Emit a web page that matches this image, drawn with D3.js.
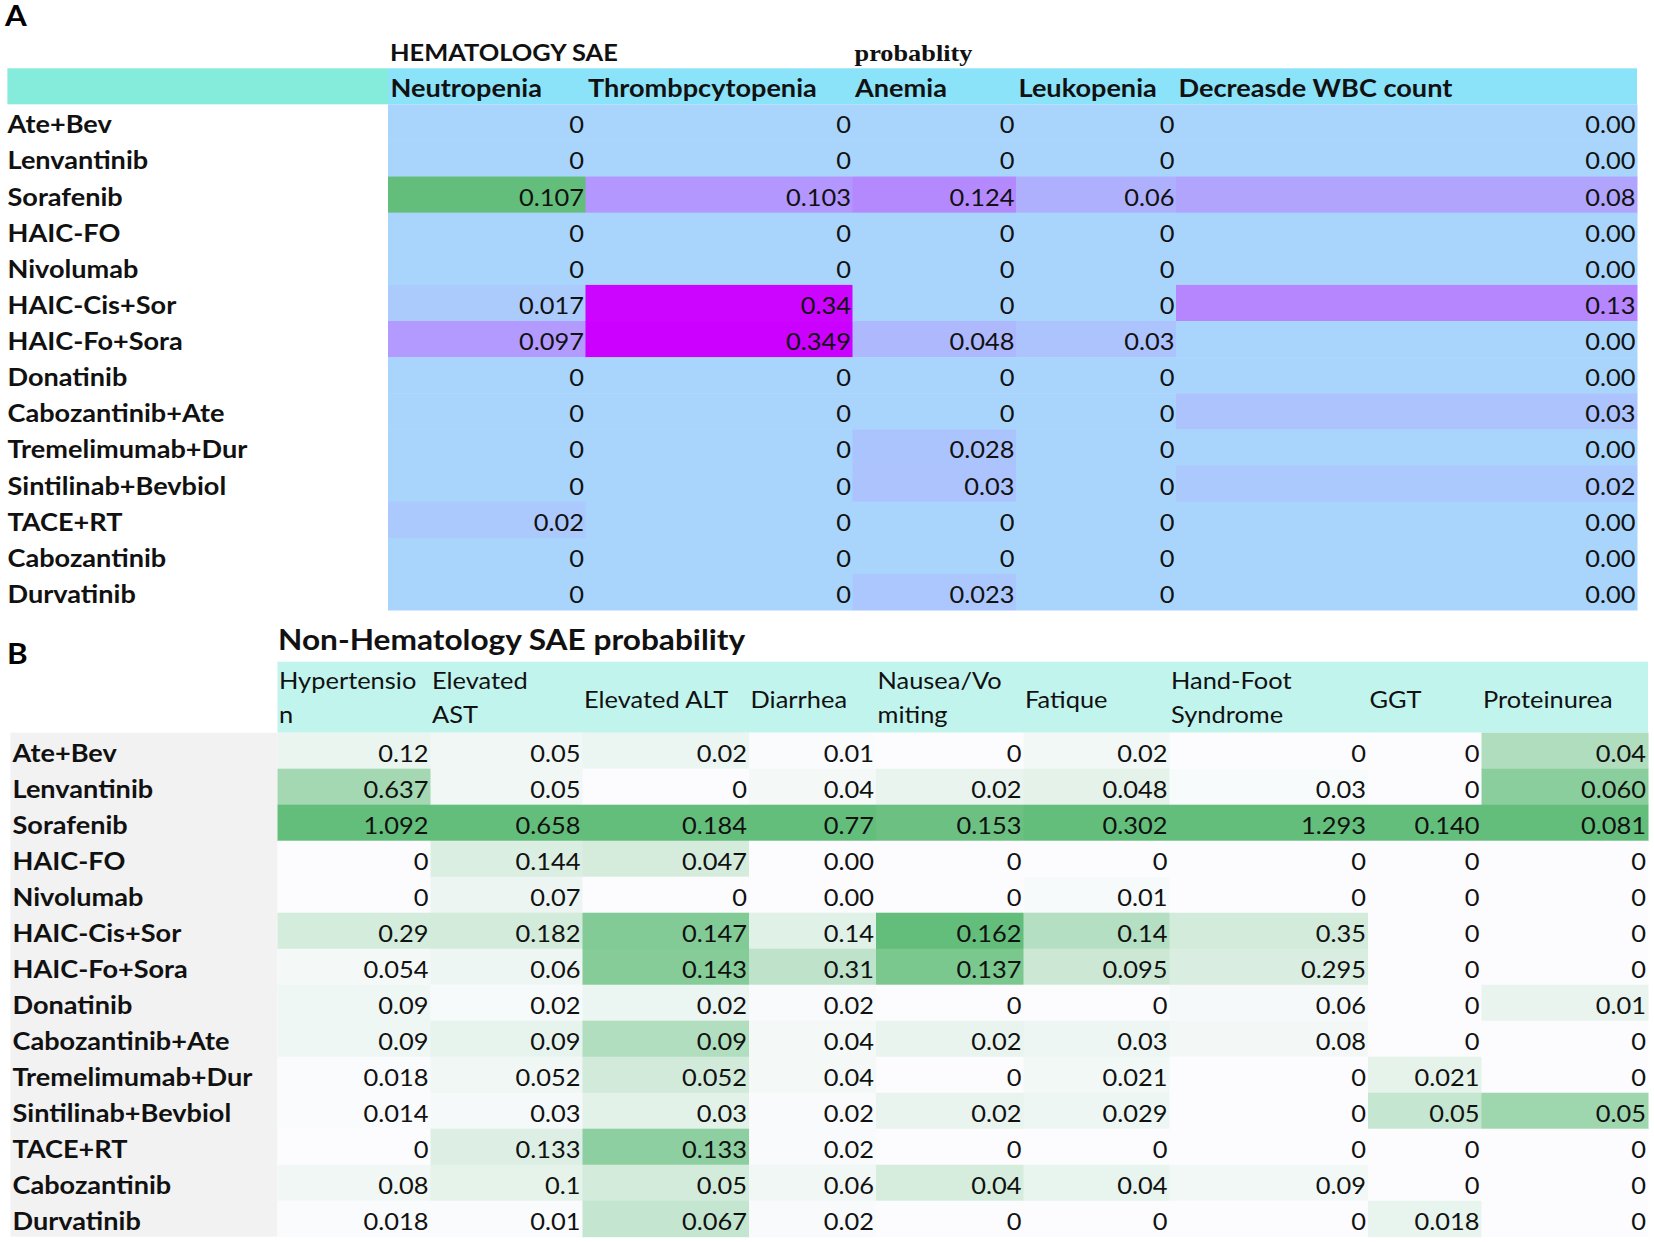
<!DOCTYPE html>
<html>
<head>
<meta charset="utf-8">
<script src="https://cdn.jsdelivr.net/npm/d3@7"></script>
<style>
  html, body { margin: 0; padding: 0; background: #ffffff; }
  svg { display: block; }
</style>
</head>
<body>
<svg id="chart" width="1654" height="1242"></svg>
<script>
// ---------------- DATA ----------------
const treatments = ["Ate+Bev","Lenvantinib","Sorafenib","HAIC-FO","Nivolumab","HAIC-Cis+Sor","HAIC-Fo+Sora","Donatinib","Cabozantinib+Ate","Tremelimumab+Dur","Sintilinab+Bevbiol","TACE+RT","Cabozantinib","Durvatinib"];

// Panel A: hematology SAE probability
const hemCategories = ["Neutropenia","Thrombpcytopenia","Anemia","Leukopenia","Decreasde WBC count"];
const neutropenia      = ["0","0","0.107","0","0","0.017","0.097","0","0","0","0","0.02","0","0"];
const thrombocytopenia = ["0","0","0.103","0","0","0.34","0.349","0","0","0","0","0","0","0"];
const anemia           = ["0","0","0.124","0","0","0","0.048","0","0","0.028","0.03","0","0","0.023"];
const leukopenia       = ["0","0","0.06","0","0","0","0.03","0","0","0","0","0","0","0"];
const decreasedWBC     = ["0.00","0.00","0.08","0.00","0.00","0.13","0.00","0.00","0.03","0.00","0.02","0.00","0.00","0.00"];
const hemHighlighted   = [["Sorafenib","Neutropenia"]];

// Panel B: non-hematology SAE probability
const nonHemCategories = ["Hypertension","Elevated AST","Elevated ALT","Diarrhea","Nausea/Vomiting","Fatique","Hand-Foot Syndrome","GGT","Proteinurea"];
const nonHemHeaderLines = [["Hypertensio","n"],["Elevated","AST"],["Elevated ALT"],["Diarrhea"],["Nausea/Vo","miting"],["Fatique"],["Hand-Foot","Syndrome"],["GGT"],["Proteinurea"]];
const hypertension = ["0.12","0.637","1.092","0","0","0.29","0.054","0.09","0.09","0.018","0.014","0","0.08","0.018"];
const elevatedAST  = ["0.05","0.05","0.658","0.144","0.07","0.182","0.06","0.02","0.09","0.052","0.03","0.133","0.1","0.01"];
const elevatedALT  = ["0.02","0","0.184","0.047","0","0.147","0.143","0.02","0.09","0.052","0.03","0.133","0.05","0.067"];
const diarrhea     = ["0.01","0.04","0.77","0.00","0.00","0.14","0.31","0.02","0.04","0.04","0.02","0.02","0.06","0.02"];
const nausea       = ["0","0.02","0.153","0","0","0.162","0.137","0","0.02","0","0.02","0","0.04","0"];
const fatigue      = ["0.02","0.048","0.302","0","0.01","0.14","0.095","0","0.03","0.021","0.029","0","0.04","0"];
const handFoot     = ["0","0.03","1.293","0","0","0.35","0.295","0.06","0.08","0","0","0","0.09","0"];
const ggt          = ["0","0","0.140","0","0","0","0","0","0","0.021","0.05","0","0","0.018"];
const proteinuria  = ["0.04","0.060","0.081","0","0","0","0","0.01","0","0","0.05","0","0","0"];

const hemSeries = [neutropenia, thrombocytopenia, anemia, leukopenia, decreasedWBC];
const nonHemSeries = [hypertension, elevatedAST, elevatedALT, diarrhea, nausea, fatigue, handFoot, ggt, proteinuria];

// ---------------- LAYOUT / STYLE ----------------
const SX = 1.13;               // horizontal stretch of the source rendering
const SANS = "Lato, 'Open Sans', sans-serif";
const svg = d3.select("#chart");

function txt(parent, str, x, y, o = {}) {
  return parent.append("text")
    .attr("transform", `translate(${x},${y}) scale(${o.sx || SX},1)`)
    .attr("text-anchor", o.anchor || "start")
    .attr("font-family", o.family || SANS)
    .attr("font-weight", o.weight || "normal")
    .attr("font-size", o.size || 22)
    .attr("fill", o.fill || "#111")
    .text(str);
}

function edgeScale(cats, x0, widths) {
  const edges = [x0];
  widths.forEach(w => edges.push(edges[edges.length - 1] + w));
  const s = d3.scaleOrdinal().domain(cats).range(edges.slice(0, -1));
  s.width = c => widths[cats.indexOf(c)];
  s.end = edges[edges.length - 1];
  return s;
}

// ---------- Panel A ----------
const gA = svg.append("g");
const xA = edgeScale(hemCategories, 388, [197.5, 267, 163.5, 160, 461]);
const yA = d3.scaleBand().domain(treatments).range([104.3, 610]).paddingInner(0);
const hemMax = d3.max(hemSeries.flat(), d => +d);
const colorA = d3.scaleLinear().domain([0, hemMax]).range(["#a9d5fd", "#cc00ff"]).interpolate(d3.interpolateRgb);
const hlSet = new Set(hemHighlighted.map(d => d.join("|")));

txt(gA, "A", 5, 26, {weight: "bold", size: 28, sx: 1.12, fill: "#000"});
txt(gA, "HEMATOLOGY SAE", xA(hemCategories[0]) + 2, 60.5, {weight: "bold", size: 22.5});
txt(gA, "probablity", xA(hemCategories[2]) + 2, 61, {family: "'Liberation Serif', 'Times New Roman', serif", weight: "bold", size: 23.5, sx: 1.12});

// header row
gA.append("rect").attr("x", 7.4).attr("y", 68.3).attr("width", xA(hemCategories[0]) - 7.4).attr("height", 104.3 - 68.3).attr("fill", "#85ebdb");
gA.append("rect").attr("x", xA(hemCategories[0])).attr("y", 68.3).attr("width", xA.end - xA(hemCategories[0])).attr("height", 104.3 - 68.3).attr("fill", "#8be3f9");
hemCategories.forEach(c => txt(gA, c, xA(c) + 2.5, 96.5, {weight: "bold", size: 24}));

// cells
hemCategories.forEach((c, ci) => {
  hemSeries[ci].forEach((v, ri) => {
    const t = treatments[ri];
    const fill = hlSet.has(t + "|" + c) ? "#63be7b" : colorA(+v);
    gA.append("rect").attr("x", xA(c)).attr("y", yA(t)).attr("width", xA.width(c) + 0.5).attr("height", yA.bandwidth() + 0.5).attr("fill", fill);
  });
});
hemCategories.forEach((c, ci) => {
  hemSeries[ci].forEach((v, ri) => {
    txt(gA, v, xA(c) + xA.width(c) - 1.5, yA(treatments[ri]) + 29, {anchor: "end", size: 22.5});
  });
});
treatments.forEach(t => txt(gA, t, 7.5, yA(t) + 29, {weight: "bold", size: 24}));

// ---------- Panel B ----------
const gB = svg.append("g");
const xB = edgeScale(nonHemCategories, 277.5, [153, 152, 166.5, 127, 147.5, 146, 198.5, 113.5, 166.5]);
const yB = d3.scaleBand().domain(treatments).range([732.7, 1236.7]).paddingInner(0);

txt(gB, "B", 7, 664, {weight: "bold", size: 28, sx: 1.12, fill: "#000"});
txt(gB, "Non-Hematology SAE probability", xB(nonHemCategories[0]) + 0.5, 650, {weight: "bold", size: 28});

// header
gB.append("rect").attr("x", xB(nonHemCategories[0])).attr("y", 661.7).attr("width", xB.end - xB(nonHemCategories[0])).attr("height", 732.7 - 661.7).attr("fill", "#c2f4ee");
nonHemCategories.forEach((c, ci) => {
  const lines = nonHemHeaderLines[ci];
  if (lines.length === 2) {
    txt(gB, lines[0], xB(c) + 1.5, 689, {size: 22.5});
    txt(gB, lines[1], xB(c) + 1.5, 723, {size: 22.5});
  } else {
    txt(gB, lines[0], xB(c) + 1.5, 707.5, {size: 22.5});
  }
});

// label column background
gB.append("rect").attr("x", 10.5).attr("y", 732.7).attr("width", xB(nonHemCategories[0]) - 10.5).attr("height", 1236.7 - 732.7).attr("fill", "#f2f2f2");

// cells (colour scale per column, Excel-like white -> green)
nonHemCategories.forEach((c, ci) => {
  const colMax = d3.max(nonHemSeries[ci], d => +d);
  const col = d3.scaleLinear().domain([0, colMax]).range(["#fcfcff", "#63be7b"]);
  nonHemSeries[ci].forEach((v, ri) => {
    const t = treatments[ri];
    gB.append("rect").attr("x", xB(c)).attr("y", yB(t)).attr("width", xB.width(c) + 0.5).attr("height", yB.bandwidth() + 0.5).attr("fill", col(+v));
  });
});
nonHemCategories.forEach((c, ci) => {
  nonHemSeries[ci].forEach((v, ri) => {
    txt(gB, v, xB(c) + xB.width(c) - 2, yB(treatments[ri]) + 29, {anchor: "end", size: 22.5});
  });
});
treatments.forEach(t => txt(gB, t, 12.5, yB(t) + 29, {weight: "bold", size: 24}));
</script>
</body>
</html>
